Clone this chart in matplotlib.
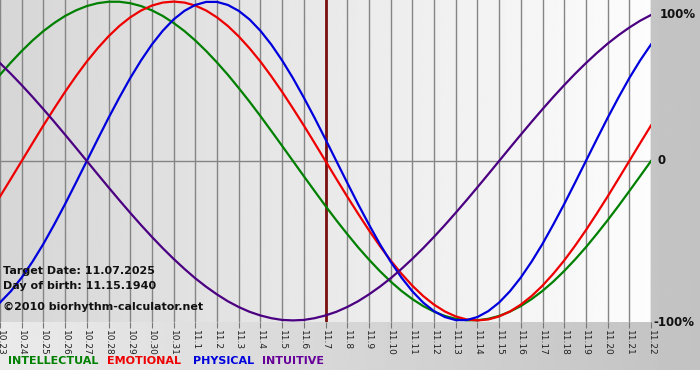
import numpy as np
import matplotlib
matplotlib.use("Agg")
import matplotlib.pyplot as plt

# day labels, 10.23 .. 11.22
days = [f"10.{d}" for d in range(23, 32)] + [f"11.{d}" for d in range(1, 23)]

# curve values read every half day (fraction of 100%)
intellectual = [0.541, 0.618, 0.690, 0.756, 0.815, 0.866, 0.910, 0.945, 0.972, 0.990,
                0.999, 0.999, 0.990, 0.972, 0.945, 0.910, 0.866, 0.815, 0.756, 0.690,
                0.618, 0.541, 0.458, 0.372, 0.282, 0.189, 0.095, 0.0, -0.095, -0.189,
                -0.282, -0.372, -0.458, -0.541, -0.618, -0.690, -0.756, -0.815, -0.866, -0.910,
                -0.945, -0.972, -0.990, -0.999, -0.999, -0.990, -0.972, -0.945, -0.910, -0.866,
                -0.815, -0.756, -0.690, -0.618, -0.541, -0.458, -0.372, -0.282, -0.189, -0.095,
                0.0]
emotional = [-0.223, -0.112, 0.0, 0.112, 0.223, 0.330, 0.434, 0.532, 0.624, 0.707,
             0.782, 0.847, 0.901, 0.944, 0.975, 0.994, 1.0, 0.994, 0.975, 0.944,
             0.901, 0.847, 0.782, 0.707, 0.624, 0.532, 0.434, 0.330, 0.223, 0.112,
             0.0, -0.112, -0.223, -0.330, -0.434, -0.532, -0.624, -0.707, -0.782, -0.847,
             -0.901, -0.944, -0.975, -0.994, -1.0, -0.994, -0.975, -0.944, -0.901, -0.847,
             -0.782, -0.707, -0.624, -0.532, -0.434, -0.330, -0.223, -0.112, 0.0, 0.112,
             0.223]
physical = [-0.888, -0.817, -0.731, -0.631, -0.520, -0.398, -0.270, -0.136, 0.0, 0.136,
            0.270, 0.398, 0.520, 0.631, 0.731, 0.817, 0.888, 0.942, 0.979, 0.998,
            0.998, 0.979, 0.942, 0.888, 0.817, 0.731, 0.631, 0.520, 0.398, 0.270,
            0.136, 0.0, -0.136, -0.270, -0.398, -0.520, -0.631, -0.731, -0.817, -0.888,
            -0.942, -0.979, -0.998, -0.998, -0.979, -0.942, -0.888, -0.817, -0.731, -0.631,
            -0.520, -0.398, -0.270, -0.136, 0.0, 0.136, 0.270, 0.398, 0.520, 0.631,
            0.731]
intuitive = [0.614, 0.547, 0.476, 0.402, 0.325, 0.246, 0.165, 0.083, 0.0, -0.083,
             -0.165, -0.246, -0.325, -0.402, -0.476, -0.547, -0.614, -0.677, -0.736, -0.789,
             -0.837, -0.880, -0.916, -0.946, -0.969, -0.986, -0.997, -1.0, -0.997, -0.986,
             -0.969, -0.946, -0.916, -0.880, -0.837, -0.789, -0.736, -0.677, -0.614, -0.547,
             -0.476, -0.402, -0.325, -0.246, -0.165, -0.083, 0.0, 0.083, 0.165, 0.246,
             0.325, 0.402, 0.476, 0.547, 0.614, 0.677, 0.736, 0.789, 0.837, 0.880,
             0.916]

target_idx = 15  # 11.7

W, H = 700, 380
fig = plt.figure(figsize=(W / 100, H / 100), dpi=100)

# figure background gradient
bg = fig.add_axes([0, 0, 1, 1], zorder=0)
g = np.linspace(0.92, 0.76, 256)[None, :].repeat(2, axis=0)
bg.imshow(g, cmap="gray", vmin=0, vmax=1, aspect="auto", extent=[0, 1, 10 / H, 1])
bg.set_xlim(0, 1)
bg.set_ylim(0, 1)
bg.axis("off")

# plot area
ax = fig.add_axes([0, 1 - 322 / H, 651 / W, 322 / H], zorder=1)
x = np.arange(len(days))
xh = np.arange(len(physical)) / 2  # half-day positions
pg = np.linspace(0.84, 0.99, 256)[None, :].repeat(2, axis=0)
ax.imshow(pg, cmap="gray", vmin=0, vmax=1, aspect="auto",
          extent=[0, len(days) - 1, -1.01, 1.01], zorder=0)

for xi in x:
    ax.axvline(xi, color="#858585", lw=1, zorder=1)
ax.axhline(0, color="#858585", lw=1, zorder=1)

ax.plot(xh, intellectual, color="#008000", lw=1.6, zorder=3)
ax.plot(xh, emotional, color="#ee0000", lw=1.6, zorder=3)
ax.plot(xh, physical, color="#0000dd", lw=1.6, zorder=3)
ax.plot(xh, intuitive, color="#4b0082", lw=1.6, zorder=3)
ax.axvline(target_idx, color="#7a1010", lw=2, zorder=2)

ax.set_xlim(0, len(days) - 1)
ax.set_ylim(-1.01, 1.01)
ax.set_xticks(x)
ax.set_xticklabels(days, rotation=270, fontsize=6.5, color="#222222")
ax.tick_params(axis="x", length=4, color="#777777", pad=2)
ax.set_yticks([])
for s in ax.spines.values():
    s.set_visible(False)

info = dict(fontsize=8, fontweight="bold", color="#111111", transform=ax.transAxes, va="center")
ax.text(3 / 651, 1 - 271 / 322, "Target Date: 11.07.2025", **info)
ax.text(3 / 651, 1 - 286 / 322, "Day of birth: 11.15.1940", **info)
ax.text(3 / 651, 1 - 307 / 322, "\u00a92010 biorhythm-calculator.net", **info)

# right side percent labels
rl = dict(fontsize=8.5, fontweight="bold", color="#111111", va="center")
fig.text(660 / W, 1 - 14 / H, "100%", **rl)
fig.text(657 / W, 1 - 161 / H, "0", **rl)
fig.text(653 / W, 1 - 322 / H, "-100%", **rl)

# legend line
leg = dict(fontsize=8, fontweight="bold", va="center")
fig.text(8 / W, 1 - 361 / H, "INTELLECTUAL", color="#008000", **leg)
fig.text(107 / W, 1 - 361 / H, "EMOTIONAL", color="#ee0000", **leg)
fig.text(193 / W, 1 - 361 / H, "PHYSICAL", color="#0000dd", **leg)
fig.text(262 / W, 1 - 361 / H, "INTUITIVE", color="#660099", **leg)

fig.savefig("out.png", dpi=100)
